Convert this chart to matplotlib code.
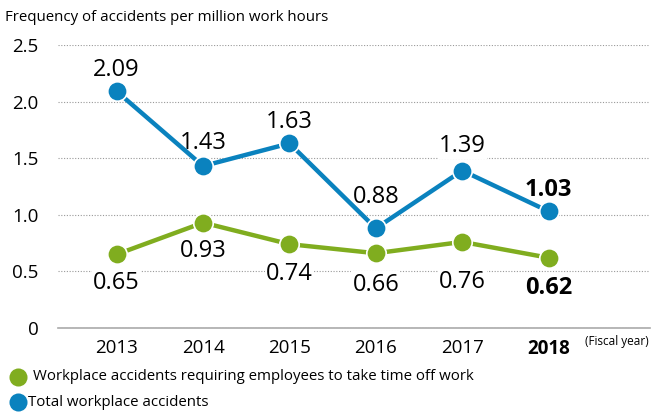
import matplotlib
matplotlib.use("Agg")
import matplotlib.pyplot as plt
from matplotlib.lines import Line2D

plt.rcParams['font.family'] = ['Open Sans', 'DejaVu Sans']

years = ["2013", "2014", "2015", "2016", "2017", "2018"]
total = [2.09, 1.43, 1.63, 0.88, 1.39, 1.03]
timeoff = [0.65, 0.93, 0.74, 0.66, 0.76, 0.62]
yticks = [0, 0.5, 1.0, 1.5, 2.0, 2.5]
ytick_labels = ["0", "0.5", "1.0", "1.5", "2.0", "2.5"]

# label offsets in points (style)
total_off = [7, 8, 7, 14, 9, 7]
timeoff_off = [-12, -12, -13, -14, -20, -13]

blue = "#0a82be"
green = "#80ad1f"

fig = plt.figure(figsize=(6.51, 4.12), dpi=100)
ax = fig.add_axes([0.089, 0.204, 0.909, 0.687])
x = list(range(len(years)))

for vals, col in [(timeoff, green), (total, blue)]:
    ax.plot(x, vals, color=col, lw=3.2, marker='o', ms=14, mec='white', mew=1.2, zorder=3)

for i, v in enumerate(total):
    bold = i == len(years) - 1
    ax.annotate(f"{v:.2f}", (i, v), xytext=(0, total_off[i]), textcoords='offset points',
                ha='center', va='bottom', fontsize=17,
                fontweight='bold' if bold else 'normal', color='black',
                bbox=dict(boxstyle='square,pad=0.05', fc='white', ec='none'), zorder=2.5)
for i, v in enumerate(timeoff):
    bold = i == len(years) - 1
    ax.annotate(f"{v:.2f}", (i, v), xytext=(0, timeoff_off[i]), textcoords='offset points',
                ha='center', va='top', fontsize=17,
                fontweight='bold' if bold else 'normal', color='black',
                bbox=dict(boxstyle='square,pad=0.05', fc='white', ec='none'), zorder=2.5)

ax.set_xlim(-0.68, 6.17)
ax.set_ylim(0, 2.5)
ax.set_yticks(yticks)
ax.set_yticklabels(ytick_labels, fontsize=13.5)
ax.set_xticks(x)
ax.set_xticklabels(years, fontsize=13.5)
ax.get_xticklabels()[-1].set_fontweight('bold')
ax.tick_params(axis='x', length=0, pad=8)
ax.tick_params(axis='y', length=0, pad=14)
for s in ['top', 'right', 'left']:
    ax.spines[s].set_visible(False)
ax.spines['bottom'].set_color('#aaaaaa')
ax.spines['bottom'].set_linewidth(1.2)
ax.grid(axis='y', color='#999999', ls=(0, (1, 1.5)), lw=0.8)
ax.set_axisbelow(True)

fig.text(0.008, 0.958, "Frequency of accidents per million work hours", fontsize=10.8, va='center', ha='left')
fig.text(0.997, 0.172, "(Fiscal year)", fontsize=8.5, va='center', ha='right')

# legend
fig.add_artist(Line2D([0.027], [1 - 377/412], marker='o', ms=13, color=green, mec='none', transform=fig.transFigure))
fig.text(0.05, 1 - 377/412, "Workplace accidents requiring employees to take time off work", fontsize=10.8, va='center', ha='left')
fig.add_artist(Line2D([0.027], [1 - 402/412], marker='o', ms=13, color=blue, mec='none', transform=fig.transFigure))
fig.text(0.043, 1 - 402/412, "Total workplace accidents", fontsize=10.8, va='center', ha='left')

fig.savefig("out.png", dpi=100)
